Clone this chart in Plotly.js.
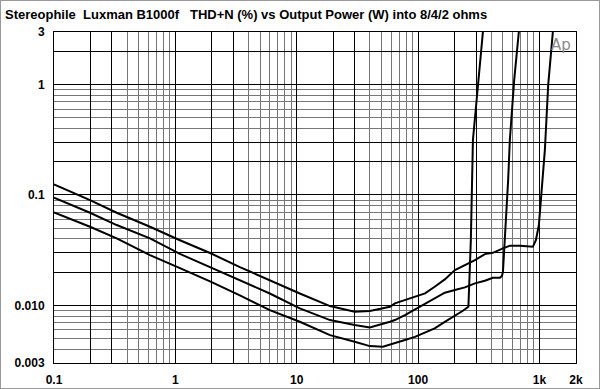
<!DOCTYPE html>
<html>
<head>
<meta charset="utf-8">
<script src="https://cdn.plot.ly/plotly-3.0.1.min.js"></script>
<style>
  html, body { margin: 0; padding: 0; background: #fff; }
  #chart { width: 600px; height: 389px; box-sizing: border-box; border: 1px solid #9a9a9a; }
</style>
</head>
<body>
<div id="chart"></div>
<script>
// 8 ohms (lowest curve, clips first)
const power8 = [0.1, 0.198, 0.3285, 0.618, 1.09, 1.93, 3.4, 6.0, 10.6, 18.8, 30, 40, 51.3, 64.4, 77.9, 94.1, 114, 137, 166, 201, 234, 259.7, 272, 283, 311, 342];
const thd8   = [0.0696, 0.0515, 0.0404, 0.0285, 0.0217, 0.0165, 0.0123, 0.00905, 0.00709, 0.00537, 0.00467, 0.00427, 0.00421, 0.00452, 0.00484, 0.00518, 0.00563, 0.00618, 0.00709, 0.00799, 0.00892, 0.0097, 0.039, 0.315, 0.992, 3.0];

// 4 ohms (middle curve)
const power4 = [0.1, 0.198, 0.3285, 0.618, 1.09, 1.93, 3.4, 6.0, 10.6, 18.8, 30, 40, 58.6, 64.4, 77.9, 94.1, 114, 137, 166, 201, 243, 294, 355, 413, 472, 490, 500, 552, 570, 619, 676];
const thd4   = [0.0944, 0.069, 0.0534, 0.0404, 0.0292, 0.0222, 0.0169, 0.0128, 0.00938, 0.00735, 0.00662, 0.00631, 0.00709, 0.00735, 0.00815, 0.00919, 0.01026, 0.01156, 0.0130, 0.01374, 0.01454, 0.0158, 0.01669, 0.01776, 0.0178, 0.0184, 0.020, 0.1365, 0.315, 1.10, 3.0];

// 2 ohms (top curve, clips last)
const power2 = [0.1, 0.198, 0.3285, 0.618, 1.09, 1.93, 3.4, 6.0, 10.6, 18.8, 30, 40, 58.6, 64.4, 77.9, 94.1, 114, 137, 166, 201, 243, 294, 355, 413, 500, 570, 690, 882, 934, 989, 1108, 1180, 1289];
const thd2   = [0.1248, 0.0899, 0.069, 0.0515, 0.0389, 0.0298, 0.0222, 0.0168, 0.0128, 0.00984, 0.00874, 0.00887, 0.0097, 0.01041, 0.01115, 0.0118, 0.01283, 0.01472, 0.01718, 0.02087, 0.02316, 0.0257, 0.0291, 0.0299, 0.0328, 0.0347, 0.0347, 0.0339, 0.039, 0.0534, 0.256, 0.99, 3.0];

// axis ticks / grid
const xMajorVals = [0.1, 0.2, 0.3, 1, 2, 3, 10, 20, 30, 100, 200, 300, 1000, 2000];
const xMajorText = ['0.1', '', '', '1', '', '', '10', '', '', '100', '', '', '1k', '2k'];
const xMinorVals = [0.4, 0.5, 0.6, 0.7, 0.8, 0.9, 4, 5, 6, 7, 8, 9, 40, 50, 60, 70, 80, 90, 400, 500, 600, 700, 800, 900];
const yMajorVals = [0.003, 0.01, 0.02, 0.03, 0.1, 0.2, 0.3, 1, 2, 3];
const yMajorText = ['0.003', '0.010', '', '', '0.1', '', '', '1', '', '3'];
const yMinorVals = [0.004, 0.005, 0.006, 0.007, 0.008, 0.009, 0.04, 0.05, 0.06, 0.07, 0.08, 0.09, 0.4, 0.5, 0.6, 0.7, 0.8, 0.9];

const titleText = 'Stereophile\u00a0\u00a0Luxman B1000f\u00a0\u00a0\u00a0THD+N (%) vs Output Power (W) into 8/4/2 ohms';

const lineStyle = { color: '#000', width: 2 };
const traces = [
  { x: power8, y: thd8, type: 'scatter', mode: 'lines', line: lineStyle, name: '8 ohms' },
  { x: power4, y: thd4, type: 'scatter', mode: 'lines', line: lineStyle, name: '4 ohms' },
  { x: power2, y: thd2, type: 'scatter', mode: 'lines', line: lineStyle, name: '2 ohms' }
];

const tickFont = { family: 'Liberation Sans, Arial, sans-serif', size: 12, color: '#000', weight: 'bold' };

const layout = {
  width: 598,
  height: 387,
  margin: { l: 53, r: 23, t: 31, b: 25, pad: 0 },
  paper_bgcolor: '#fff',
  plot_bgcolor: '#fff',
  showlegend: false,
  title: {
    text: titleText,
    font: { family: 'Liberation Sans, Arial, sans-serif', size: 13, color: '#000', weight: 'bold' },
    xref: 'container', yref: 'container',
    x: 4 / 598, xanchor: 'left',
    y: 1 - 13 / 387, yanchor: 'middle'
  },
  xaxis: {
    type: 'log',
    range: [Math.log10(0.1), Math.log10(2000)],
    tickmode: 'array',
    tickvals: xMajorVals,
    ticktext: xMajorText,
    ticks: '',
    tickfont: tickFont,
    showgrid: true,
    gridcolor: '#000',
    gridwidth: 1,
    minor: { tickmode: 'array', tickvals: xMinorVals, showgrid: true, gridcolor: '#777', gridwidth: 1, ticks: '' },
    showline: true, mirror: true, linecolor: '#000', linewidth: 1,
    zeroline: false,
    ticklabelstandoff: 6,
    fixedrange: true
  },
  yaxis: {
    type: 'log',
    range: [Math.log10(0.003), Math.log10(3)],
    tickmode: 'array',
    tickvals: yMajorVals,
    ticktext: yMajorText,
    ticks: '',
    tickfont: tickFont,
    showgrid: true,
    gridcolor: '#000',
    gridwidth: 1,
    minor: { tickmode: 'array', tickvals: yMinorVals, showgrid: true, gridcolor: '#777', gridwidth: 1, ticks: '' },
    showline: true, mirror: true, linecolor: '#000', linewidth: 1,
    zeroline: false,
    ticklabelstandoff: 6,
    fixedrange: true
  },
  annotations: [{
    xref: 'x', yref: 'y',
    x: Math.log10(1500), y: Math.log10(2.3),
    text: 'Ap', showarrow: false,
    font: { family: 'DejaVu Sans, sans-serif', size: 15, color: '#8a8a8a' },
    xanchor: 'center', yanchor: 'middle'
  }]
};

Plotly.newPlot('chart', traces, layout, { staticPlot: true, displayModeBar: false });
</script>
</body>
</html>
